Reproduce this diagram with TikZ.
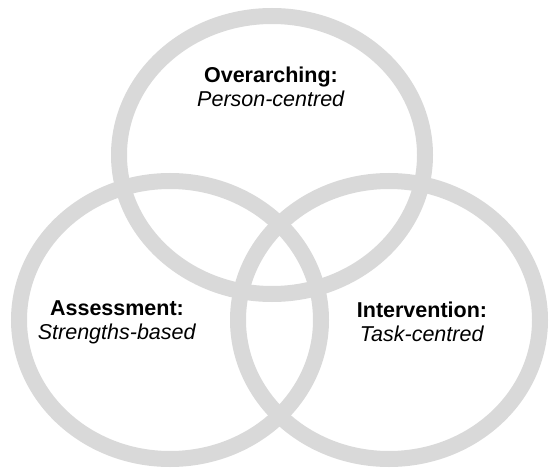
\documentclass[tikz,border=0pt]{standalone}
\usepackage{fontspec}
\setmainfont{Liberation Sans}
\definecolor{ringgray}{HTML}{D9D9D9}
\tikzset{
  ring/.style={draw=ringgray, line width=16pt},
  label/.style={align=center, font=\fontsize{21.5}{24}\selectfont, text=black, inner sep=0pt}
}
\begin{document}
\begin{tikzpicture}[x=1pt, y=-1pt]
\useasboundingbox (0,0) rectangle (549,468);
\draw[ring] (272,155) ellipse [x radius=153pt, y radius=139pt];
\draw[ring] (170,320) ellipse [x radius=151pt, y radius=139pt];
\draw[ring] (389,320) ellipse [x radius=151pt, y radius=139pt];
\node[label] (over) at (271,87) {\textbf{Overarching:}\\\textit{Person-centred}};
\node[label] (assess) at (117,322) {\textbf{Assessment:}\\\textit{Strengths-based}};
\node[label] (interv) at (422,322) {\textbf{Intervention:}\\\textit{Task-centred}};
\end{tikzpicture}
\end{document}
